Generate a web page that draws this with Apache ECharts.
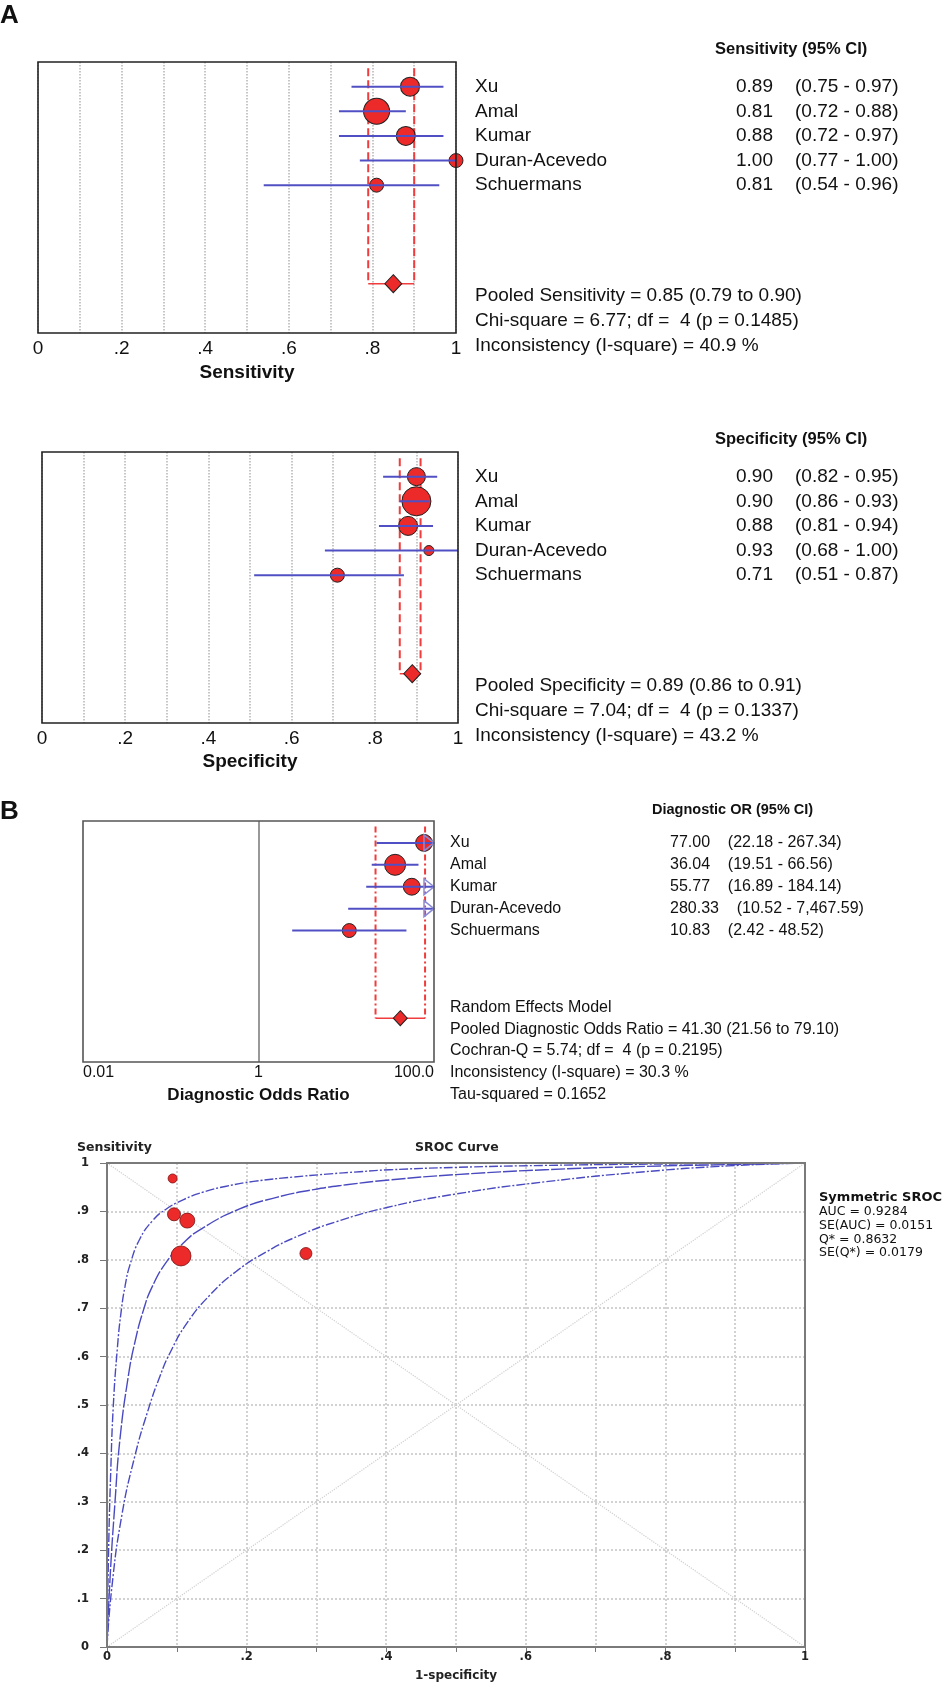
<!DOCTYPE html>
<html><head><meta charset="utf-8">
<script src="https://cdn.jsdelivr.net/npm/echarts@6.0.0/dist/echarts.min.js"></script>
<style>html,body{margin:0;padding:0;background:#fff}#c{width:945px;height:1685px}</style>
</head><body><div id="c"></div>
<script>
// ---------------- DATA ----------------
const studies = ['Xu', 'Amal', 'Kumar', 'Duran-Acevedo', 'Schuermans'];

const sens     = [0.89, 0.81, 0.88, 1.00, 0.81];
const sensLo   = [0.75, 0.72, 0.72, 0.77, 0.54];
const sensHi   = [0.97, 0.88, 0.97, 1.00, 0.96];
const sensWeight = [20.2, 37.8, 20.2, 10.9, 10.9];
const sensPooled = [0.85, 0.79, 0.90];
const sensChi = [6.77, 4, 0.1485];
const sensI2 = 40.9;

const spec     = [0.90, 0.90, 0.88, 0.93, 0.71];
const specLo   = [0.82, 0.86, 0.81, 0.68, 0.51];
const specHi   = [0.95, 0.93, 0.94, 1.00, 0.87];
const specWeight = [17.8, 46.2, 19.8, 5.5, 10.8];
const specPooled = [0.89, 0.86, 0.91];
const specChi = [7.04, 4, 0.1337];
const specI2 = 43.2;

const dor      = [77.00, 36.04, 55.77, 280.33, 10.83];
const dorLo    = [22.18, 19.51, 16.89, 10.52, 2.42];
const dorHi    = [267.34, 66.56, 184.14, 7467.59, 48.52];
const dorWeight = [22, 34, 22, 7, 15];
const dorPooled = [41.30, 21.56, 79.10];
const dorCochran = [5.74, 4, 0.2195];
const dorI2 = 30.3;
const dorTau2 = 0.1652;
const orTickValues = [0.01, 1, 100];
const orTickLabels = ['0.01', '1', '100.0'];

// SROC study points (1-specificity, sensitivity)
const srocFpr  = [0.096, 0.106, 0.115, 0.094, 0.285];
const srocSens = [0.894, 0.808, 0.881, 0.968, 0.813];
const srocWeight = [16.6, 39.3, 22.0, 8.0, 14.1];
// SROC curves
const srocMidX = [0, 0.0043, 0.0115, 0.0186, 0.0306, 0.040, 0.052, 0.064, 0.085, 0.109, 0.133, 0.19, 0.243, 0.296, 0.343, 0.405, 0.5, 0.627, 0.771, 0.9, 1];
const srocMidY = [0, 0.14, 0.30, 0.43, 0.56, 0.63, 0.695, 0.742, 0.795, 0.834, 0.862, 0.905, 0.929, 0.945, 0.955, 0.965, 0.976, 0.986, 0.993, 0.997, 1];
const srocUpX  = [0, 0.0023, 0.0053, 0.0091, 0.015, 0.020, 0.0258, 0.033, 0.047, 0.066, 0.085, 0.109, 0.138, 0.171, 0.210, 0.267, 0.315, 0.362, 0.405, 0.5, 0.627, 0.8, 1];
const srocUpY  = [0, 0.20, 0.36, 0.50, 0.62, 0.69, 0.745, 0.79, 0.843, 0.882, 0.905, 0.924, 0.94, 0.952, 0.962, 0.971, 0.977, 0.982, 0.986, 0.991, 0.995, 0.998, 1];
const srocLoX  = [0, 0.0067, 0.021, 0.040, 0.059, 0.076, 0.090, 0.114, 0.148, 0.186, 0.229, 0.277, 0.329, 0.401, 0.5, 0.627, 0.771, 0.89, 1];
const srocLoY  = [0, 0.12, 0.27, 0.395, 0.49, 0.56, 0.607, 0.668, 0.728, 0.777, 0.817, 0.851, 0.879, 0.908, 0.936, 0.961, 0.982, 0.994, 1];
const srocStats = ['AUC = 0.9284', 'SE(AUC) = 0.0151', 'Q* = 0.8632', 'SE(Q*) = 0.0179'];

// ---------------- CHART ----------------
const chart = echarts.init(document.getElementById('c'), null, {renderer: 'canvas'});
const SANS = '"Liberation Sans", Arial, sans-serif';
const SROCF = '"DejaVu Sans", Verdana, sans-serif';
const RED = '#ec2a2a', BLUE = '#5050c4', PRED = '#f03c3c';

function fmtTenth(v) { const k = Math.round(v * 10); if (k % 2) return ''; if (k === 0) return '0'; if (k === 10) return '1'; return '.' + k; }
function fmtTenthAll(v) { const k = Math.round(v * 10); if (k === 0) return '0'; if (k === 10) return '1'; return '.' + k; }

const gridBoxes = [
  {left: 38, top: 62, width: 418, height: 271},
  {left: 42, top: 452, width: 416, height: 271},
  {left: 83, top: 821, width: 351, height: 241},
  {left: 107, top: 1163, width: 698, height: 484}
];
const borderStyle = [
  {stroke: '#222', lineWidth: 1.6},
  {stroke: '#222', lineWidth: 1.6},
  {stroke: '#555', lineWidth: 1.6},
  {stroke: '#7a7a7a', lineWidth: 2}
];
const grids = gridBoxes.map(g => Object.assign({show: false}, g));

function forestXAxis(gi, name, gap) {
  return {type: 'value', gridIndex: gi, min: 0, max: 1, interval: 0.1,
    axisLine: {show: false}, axisTick: {show: false},
    splitLine: {show: true, lineStyle: {color: '#b4b4b4', type: 'dotted', width: 1.5}},
    axisLabel: {fontSize: 19, color: '#111', margin: 6, formatter: fmtTenth, fontFamily: SANS},
    name: name, nameLocation: 'middle', nameGap: gap,
    nameTextStyle: {fontWeight: 'bold', fontSize: 19, color: '#111', fontFamily: SANS}};
}
const xAxes = [
  forestXAxis(0, 'Sensitivity', 30),
  forestXAxis(1, 'Specificity', 29),
  {type: 'log', logBase: 10, gridIndex: 2, min: 0.01, max: 100,
    axisLine: {show: false}, axisTick: {show: false}, axisLabel: {show: false}, splitLine: {show: false},
    name: 'Diagnostic Odds Ratio', nameLocation: 'middle', nameGap: 25,
    nameTextStyle: {fontWeight: 'bold', fontSize: 17, color: '#111', fontFamily: SANS}},
  {type: 'value', gridIndex: 3, min: 0, max: 1, interval: 0.1,
    axisLine: {show: false}, axisTick: {show: true, length: 5, lineStyle: {color: '#777'}},
    splitLine: {show: true, lineStyle: {color: '#d2d2d2', type: 'dotted', width: 2}},
    axisLabel: {fontSize: 11.5, fontWeight: 'bold', color: '#222', margin: 4, formatter: fmtTenth, fontFamily: SROCF},
    name: '1-specificity', nameLocation: 'middle', nameGap: 23,
    nameTextStyle: {fontWeight: 'bold', fontSize: 12, color: '#222', fontFamily: SROCF}}
];
const yAxes = [0, 1, 2].map(gi => ({type: 'value', gridIndex: gi, min: 0, max: 11, inverse: true, show: false}));
yAxes.push({type: 'value', gridIndex: 3, min: 0, max: 1, interval: 0.1,
  axisLine: {show: false}, axisTick: {show: true, length: 7, lineStyle: {color: '#777'}},
  splitLine: {show: true, lineStyle: {color: '#d2d2d2', type: 'dotted', width: 2}},
  axisLabel: {fontSize: 11.5, fontWeight: 'bold', color: '#222', margin: 18, formatter: fmtTenthAll, fontFamily: SROCF}});

const series = [];
const panels = [
  {val: sens, lo: sensLo, hi: sensHi, w: sensWeight, pooled: sensPooled, max: 1, k: 4.23, dia: [17, 18], dash: [8, 4]},
  {val: spec, lo: specLo, hi: specHi, w: specWeight, pooled: specPooled, max: 1, k: 4.27, dia: [17, 18], dash: [8, 4]},
  {val: dor, lo: dorLo, hi: dorHi, w: dorWeight, pooled: dorPooled, max: 100, k: 3.6, dia: [14, 15], dash: [6, 3, 2, 3]}
];
panels.forEach((P, p) => {
  series.push({type: 'custom', xAxisIndex: p, yAxisIndex: p, z: 2, silent: true,
    data: [[P.pooled[1], P.pooled[2], 0.25, 9]],
    renderItem: (params, api) => {
      const lo = api.value(0), hi = api.value(1), t = api.value(2), b = api.value(3);
      const a = api.coord([lo, t]), bb = api.coord([lo, b]), c = api.coord([hi, b]), d = api.coord([hi, t]);
      const st = {stroke: PRED, lineWidth: 2, lineDash: P.dash};
      return {type: 'group', children: [
        {type: 'line', shape: {x1: a[0], y1: a[1], x2: bb[0], y2: bb[1]}, style: st},
        {type: 'line', shape: {x1: d[0], y1: d[1], x2: c[0], y2: c[1]}, style: st},
        {type: 'line', shape: {x1: bb[0], y1: bb[1], x2: c[0], y2: c[1]}, style: {stroke: PRED, lineWidth: 1.5}}
      ]};
    }});
  series.push({type: 'scatter', xAxisIndex: p, yAxisIndex: p, z: 3, silent: true, clip: true,
    data: P.val.map((v, i) => [v, i + 1, P.w[i]]),
    symbolSize: d => P.k * Math.sqrt(d[2]),
    itemStyle: {color: RED, borderColor: '#222', borderWidth: 1, opacity: 1}});
  series.push({type: 'custom', xAxisIndex: p, yAxisIndex: p, z: 4, silent: true,
    data: P.lo.map((l, i) => [l, P.hi[i], i + 1]),
    renderItem: (params, api) => {
      const lo = api.value(0), hi = api.value(1), row = api.value(2);
      const hc = Math.min(hi, P.max);
      const p1 = api.coord([lo, row]), p2 = api.coord([hc, row]);
      const ch = [{type: 'line', shape: {x1: p1[0], y1: p1[1], x2: p2[0], y2: p2[1]}, style: {stroke: BLUE, lineWidth: 2}}];
      if (hi > P.max) {
        ch.push({type: 'polygon', shape: {points: [[p2[0] - 10, p2[1] - 8], [p2[0], p2[1]], [p2[0] - 10, p2[1] + 8]]},
          style: {fill: 'rgba(255,255,255,0)', stroke: '#8a8ad8', lineWidth: 1.5}});
      }
      return {type: 'group', children: ch};
    }});
  const ds = {type: 'scatter', xAxisIndex: p, yAxisIndex: p, z: 5, silent: true,
    data: [[P.pooled[0], 9]], symbol: 'diamond', symbolSize: P.dia,
    itemStyle: {color: RED, borderColor: '#222', borderWidth: 1, opacity: 1}};
  if (p === 2) {
    ds.markLine = {silent: true, symbol: ['none', 'none'], label: {show: false}, animation: false,
      lineStyle: {color: '#777', type: 'solid', width: 1.5}, data: [{xAxis: 1}]};
  }
  series.push(ds);
});

// SROC
series.push({type: 'line', xAxisIndex: 3, yAxisIndex: 3, z: 1, silent: true, showSymbol: false,
  data: [[0, 0], [1, 1]], lineStyle: {color: '#cfcfcf', width: 1.2, type: 'dotted'}});
series.push({type: 'line', xAxisIndex: 3, yAxisIndex: 3, z: 1, silent: true, showSymbol: false,
  data: [[0, 1], [1, 0]], lineStyle: {color: '#cfcfcf', width: 1.2, type: 'dotted'}});
[[srocUpX, srocUpY, [9, 2, 2, 2]], [srocMidX, srocMidY, [14, 2]], [srocLoX, srocLoY, [9, 2, 2, 2]]].forEach(c => {
  series.push({type: 'line', xAxisIndex: 3, yAxisIndex: 3, z: 3, silent: true, showSymbol: false,
    smooth: 0.5,
    data: c[0].map((x, i) => [x, c[1][i]]),
    lineStyle: {color: '#4a4ac0', width: 1.4, type: c[2]}});
});
series.push({type: 'scatter', xAxisIndex: 3, yAxisIndex: 3, z: 5, silent: true,
  data: srocFpr.map((x, i) => [x, srocSens[i], srocWeight[i]]),
  symbolSize: d => 3.19 * Math.sqrt(d[2]),
  itemStyle: {color: RED, borderColor: '#7a1010', borderWidth: 0.8, opacity: 1}});

chart.setOption({
  animation: false,
  backgroundColor: '#fff',
  textStyle: {fontFamily: SANS},
  grid: grids, xAxis: xAxes, yAxis: yAxes, series: series
});

// ---------------- TEXT & FRAMES ----------------
const g = [];
gridBoxes.forEach((b, i) => {
  g.push({type: 'rect', silent: true, z: 20, shape: {x: b.left, y: b.top, width: b.width, height: b.height},
    style: Object.assign({fill: 'rgba(0,0,0,0)'}, borderStyle[i])});
});
function txt(text, x, y, size, opts) {
  opts = opts || {};
  g.push({type: 'text', x: x, y: y, silent: true, z: 10,
    style: {text: text, fontSize: size, fontFamily: opts.family || SANS, fontWeight: opts.bold ? 'bold' : 'normal',
      fill: opts.color || '#111', align: opts.align || 'left', verticalAlign: 'middle'}});
}
function rowY(p, r) { return chart.convertToPixel({yAxisIndex: p}, r); }
function f2(v) { return v.toLocaleString('en-US', {minimumFractionDigits: 2, maximumFractionDigits: 2}); }

txt('A', 0, 16, 26, {bold: true});
txt('B', 0, 812, 26, {bold: true});

[[0, 'Sensitivity', sens, sensLo, sensHi, sensPooled, sensChi, sensI2],
 [1, 'Specificity', spec, specLo, specHi, specPooled, specChi, specI2]].forEach(d => {
  const [p, nm, v, lo, hi, pl, chi, i2] = d;
  txt(nm + ' (95% CI)', 715, rowY(p, -0.5), 16.5, {bold: true});
  studies.forEach((s, i) => {
    const y = rowY(p, i + 1);
    txt(s, 475, y, 19);
    txt(v[i].toFixed(2), 736, y, 19);
    txt('(' + lo[i].toFixed(2) + ' - ' + hi[i].toFixed(2) + ')', 795, y, 19);
  });
  txt('Pooled ' + nm + ' = ' + pl[0].toFixed(2) + ' (' + pl[1].toFixed(2) + ' to ' + pl[2].toFixed(2) + ')', 475, rowY(p, 9.5), 19);
  txt('Chi-square = ' + chi[0].toFixed(2) + '; df =  ' + chi[1] + ' (p = ' + chi[2].toFixed(4) + ')', 475, rowY(p, 10.5), 19);
  txt('Inconsistency (I-square) = ' + i2.toFixed(1) + ' %', 475, rowY(p, 11.5), 19);
});

txt('Diagnostic OR (95% CI)', 652, rowY(2, -0.5), 14.5, {bold: true});
studies.forEach((s, i) => {
  const y = rowY(2, i + 1);
  txt(s, 450, y, 16);
  txt(f2(dor[i]) + '    (' + f2(dorLo[i]) + ' - ' + f2(dorHi[i]) + ')', 670, y, 16);
});
txt('Random Effects Model', 450, rowY(2, 8.5), 16);
txt('Pooled Diagnostic Odds Ratio = ' + f2(dorPooled[0]) + ' (' + f2(dorPooled[1]) + ' to ' + f2(dorPooled[2]) + ')', 450, rowY(2, 9.5), 16);
txt('Cochran-Q = ' + dorCochran[0].toFixed(2) + '; df =  ' + dorCochran[1] + ' (p = ' + dorCochran[2].toFixed(4) + ')', 450, rowY(2, 10.5), 16);
txt('Inconsistency (I-square) = ' + dorI2.toFixed(1) + ' %', 450, rowY(2, 11.5), 16);
txt('Tau-squared = ' + dorTau2.toFixed(4), 450, rowY(2, 12.5), 16);
orTickValues.forEach((v, i) => {
  const x = chart.convertToPixel({xAxisIndex: 2}, v);
  txt(orTickLabels[i], x, rowY(2, 11.5), 16, {align: i === 0 ? 'left' : (i === orTickValues.length - 1 ? 'right' : 'center')});
});

txt('Sensitivity', 77, 1148, 12.5, {bold: true, family: SROCF, color: '#222'});
txt('SROC Curve', 415, 1148, 12.5, {bold: true, family: SROCF, color: '#222'});
txt('Symmetric SROC', 819, 1198, 13, {bold: true, family: SROCF, color: '#111'});
srocStats.forEach((s, i) => txt(s, 819, 1212 + i * 13.7, 12.5, {family: SROCF, color: '#111'}));

chart.setOption({graphic: g});
</script>
</body></html>
